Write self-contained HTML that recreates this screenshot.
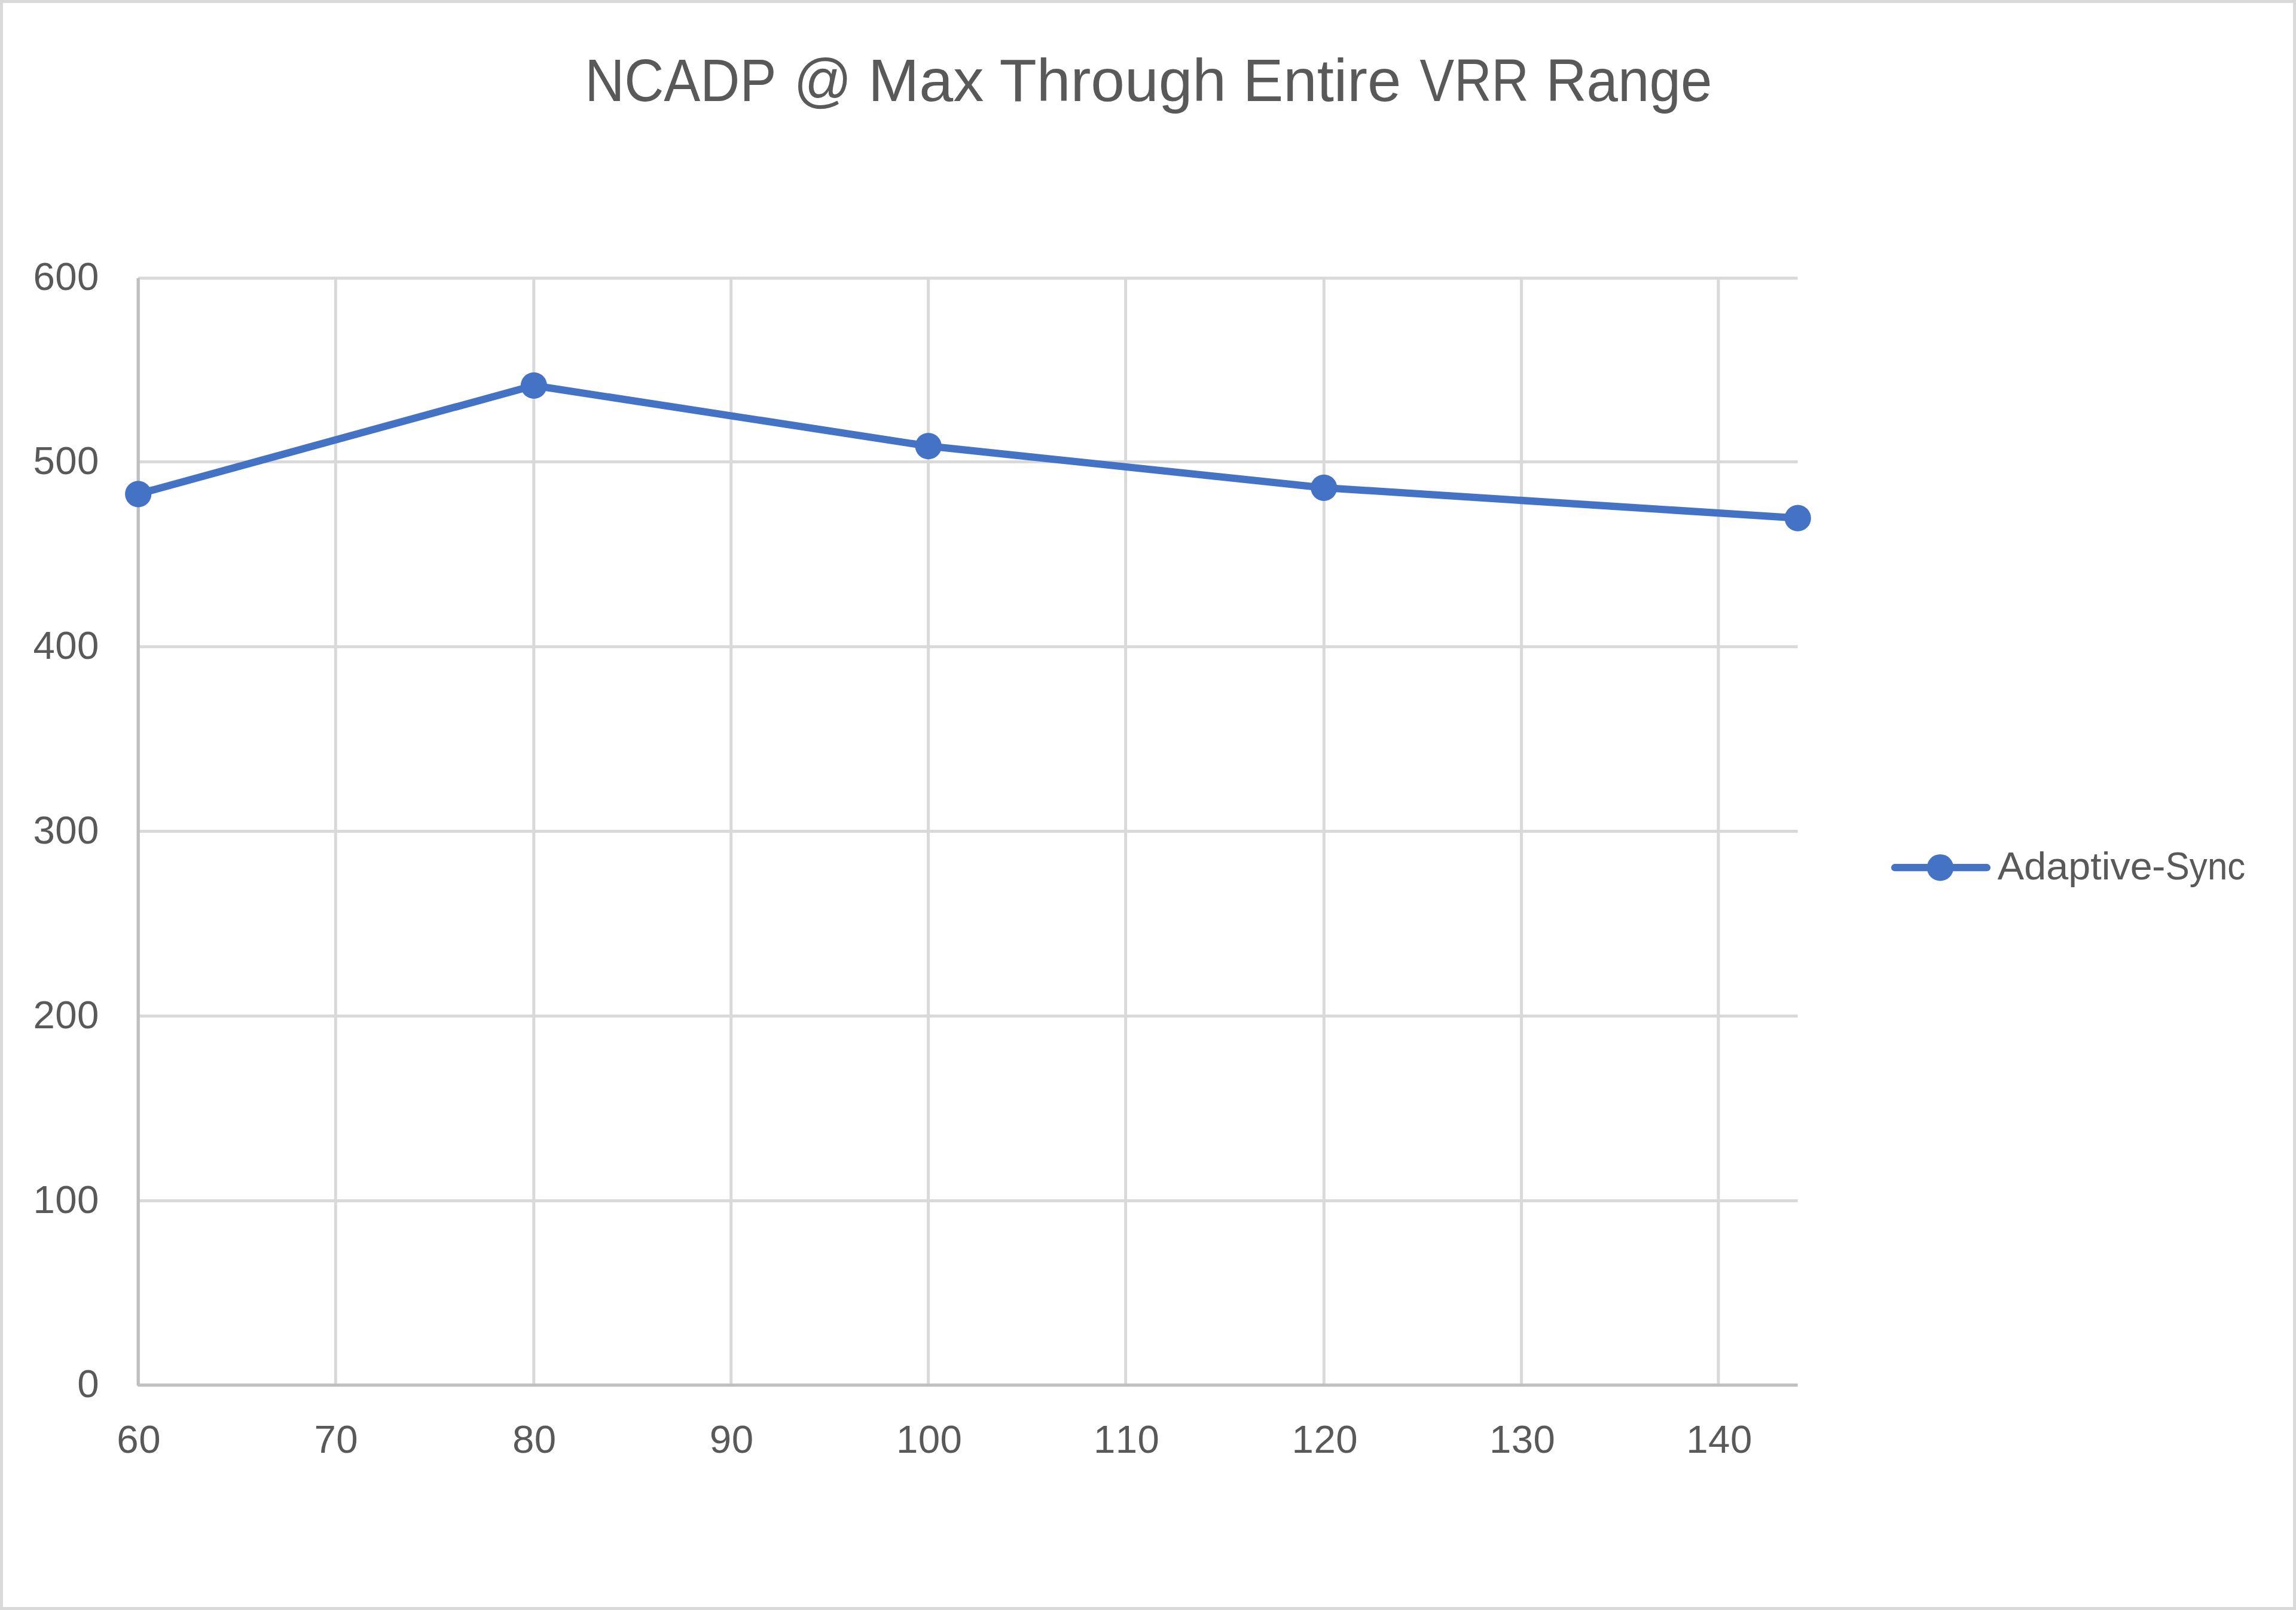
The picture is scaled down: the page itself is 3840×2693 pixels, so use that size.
<!DOCTYPE html>
<html><head><meta charset="utf-8"><title>NCADP @ Max Through Entire VRR Range</title>
<style>
html,body{margin:0;padding:0;background:#fff;}
body{width:3840px;height:2693px;overflow:hidden;font-family:"Liberation Sans",sans-serif;}
svg{display:block;position:absolute;left:0;top:0;}
text{font-family:"Liberation Sans",sans-serif;fill:#595959;}
.ax{font-size:65.4px;letter-spacing:0.5px;font-kerning:none;}
</style></head><body>
<svg width="3840" height="2693" viewBox="0 0 3840 2693">
<rect x="0" y="0" width="3840" height="2693" fill="#FFFFFF"/>
<rect x="2.5" y="2.5" width="3835" height="2688" fill="none" stroke="#D9D9D9" stroke-width="5"/>

<g stroke="#D9D9D9" stroke-width="5.0" fill="none">
<line x1="231.2" y1="2008.5" x2="3006.6" y2="2008.5"/>
<line x1="231.2" y1="1699.4" x2="3006.6" y2="1699.4"/>
<line x1="231.2" y1="1390.4" x2="3006.6" y2="1390.4"/>
<line x1="231.2" y1="1081.7" x2="3006.6" y2="1081.7"/>
<line x1="231.2" y1="772.6" x2="3006.6" y2="772.6"/>
<line x1="231.2" y1="465.2" x2="3006.6" y2="465.2"/>
<line x1="561.3" y1="465.2" x2="561.3" y2="2316.4"/>
<line x1="892.8" y1="465.2" x2="892.8" y2="2316.4"/>
<line x1="1222.7" y1="465.2" x2="1222.7" y2="2316.4"/>
<line x1="1552.6" y1="465.2" x2="1552.6" y2="2316.4"/>
<line x1="1882.6" y1="465.2" x2="1882.6" y2="2316.4"/>
<line x1="2214.3" y1="465.2" x2="2214.3" y2="2316.4"/>
<line x1="2544.6" y1="465.2" x2="2544.6" y2="2316.4"/>
<line x1="2873.9" y1="465.2" x2="2873.9" y2="2316.4"/>
</g>
<polyline points="231.20,465.25 231.20,2316.80 3006.60,2316.80" fill="none" stroke="#BFBFBF" stroke-width="5.3" stroke-linejoin="bevel"/>
<polyline points="231.2,826.3 892.9,644.9 1552.7,746.2 2214.2,815.8 3006.8,866.7" fill="none" stroke="#4472C4" stroke-width="12.3" stroke-linejoin="round" stroke-linecap="round"/>
<circle cx="231.2" cy="826.3" r="22.1" fill="#4472C4"/>
<circle cx="892.9" cy="644.9" r="22.1" fill="#4472C4"/>
<circle cx="1552.7" cy="746.2" r="22.1" fill="#4472C4"/>
<circle cx="2214.2" cy="815.8" r="22.1" fill="#4472C4"/>
<circle cx="3006.8" cy="866.7" r="22.1" fill="#4472C4"/>
<line x1="3169" y1="1451.2" x2="3323" y2="1451.2" stroke="#4472C4" stroke-width="12.2" stroke-linecap="round"/>
<circle cx="3245" cy="1451.2" r="22.3" fill="#4472C4"/>
<g id="leg" style="font-size:65.4px">
<text transform="translate(3340.83,1471.3) scale(1.0176,1)">Adaptive</text>
<text transform="translate(3599.06,1471.3) scale(1.0341,1)">-</text>
<text transform="translate(3621.80,1471.3) scale(0.9185,1)">Sync</text>
</g>
<g id="title" style="font-size:101.0px">
<text transform="translate(978.25,168.9) scale(0.9057,1)">NCADP</text>
<text transform="translate(1327.39,168.9) scale(0.9470,1)">@</text>
<text transform="translate(1452.05,168.9) scale(1.0138,1)">Max</text>
<text transform="translate(1671.51,168.9) scale(1.0090,1)">Through</text>
<text transform="translate(2078.63,168.9) scale(1.0040,1)">Entire</text>
<text transform="translate(2374.57,168.9) scale(0.8555,1)">VRR</text>
<text transform="translate(2585.42,168.9) scale(0.9339,1)">Range</text>
</g>
<text class="ax yl" x="166.0" y="2336.5" text-anchor="end">0</text>
<text class="ax yl" x="166.0" y="2028.8" text-anchor="end">100</text>
<text class="ax yl" x="166.0" y="1719.7" text-anchor="end">200</text>
<text class="ax yl" x="166.0" y="1410.7" text-anchor="end">300</text>
<text class="ax yl" x="166.0" y="1102.1" text-anchor="end">400</text>
<text class="ax yl" x="166.0" y="793.0" text-anchor="end">500</text>
<text class="ax yl" x="166.0" y="484.5" text-anchor="end">600</text>
<text class="ax xl" x="232.2" y="2430.4" text-anchor="middle">60</text>
<text class="ax xl" x="562.3" y="2430.4" text-anchor="middle">70</text>
<text class="ax xl" x="893.8" y="2430.4" text-anchor="middle">80</text>
<text class="ax xl" x="1223.7" y="2430.4" text-anchor="middle">90</text>
<text class="ax xl" x="1554.2" y="2430.4" text-anchor="middle">100</text>
<text class="ax xl" x="1884.2" y="2430.4" text-anchor="middle">110</text>
<text class="ax xl" x="2215.9" y="2430.4" text-anchor="middle">120</text>
<text class="ax xl" x="2546.2" y="2430.4" text-anchor="middle">130</text>
<text class="ax xl" x="2875.5" y="2430.4" text-anchor="middle">140</text>
</svg></body></html>
